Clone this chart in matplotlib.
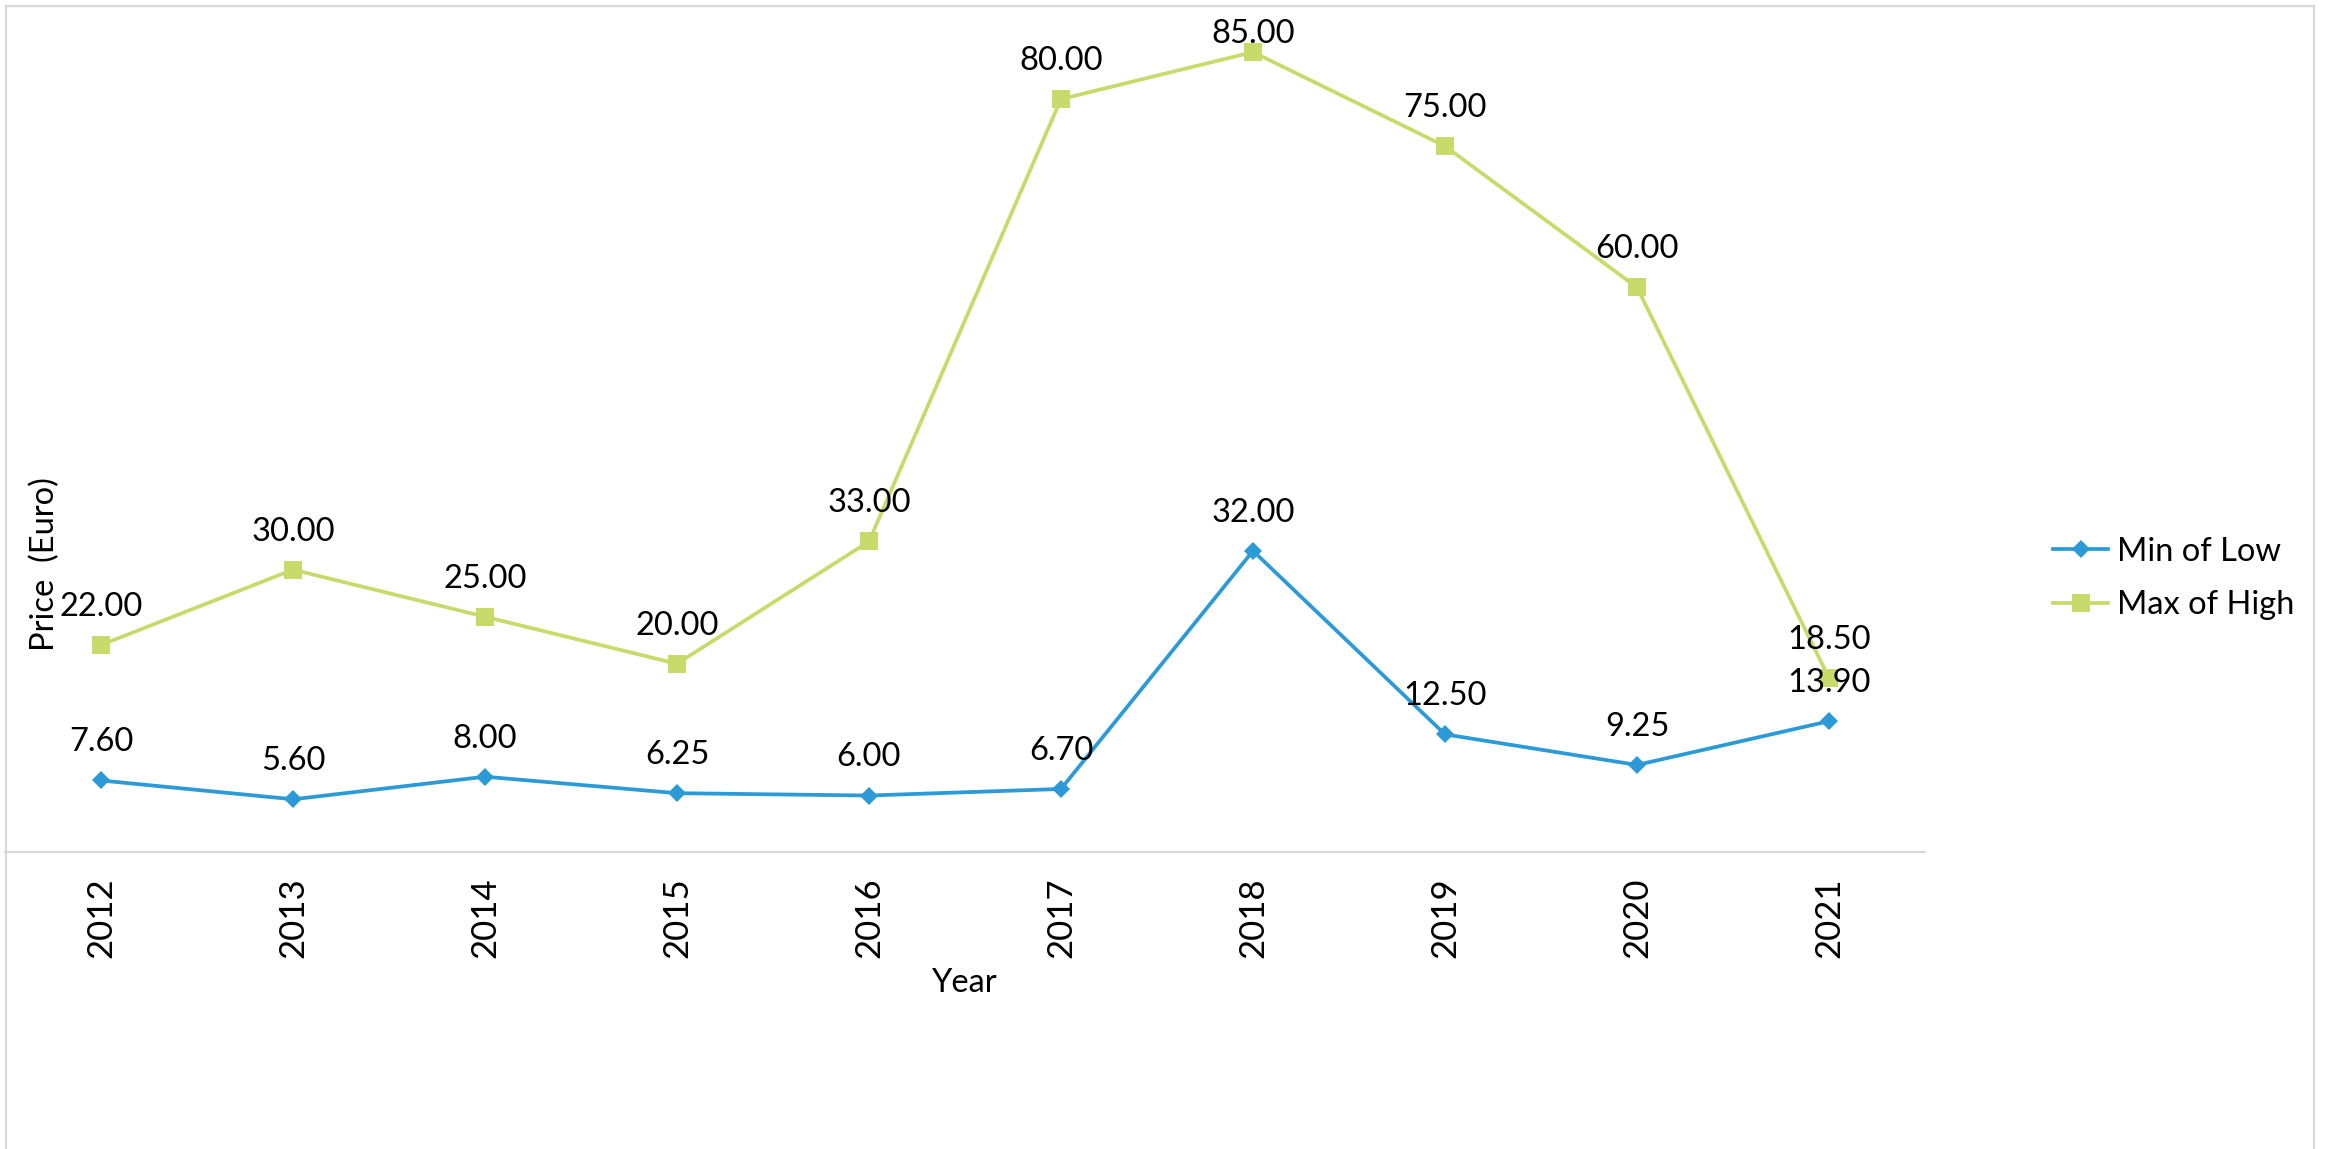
import matplotlib
matplotlib.use("Agg")
import matplotlib.pyplot as plt
from matplotlib.lines import Line2D

plt.rcParams['font.family'] = ['Lato', 'DejaVu Sans']

# ---- data ----
years = ["2012", "2013", "2014", "2015", "2016", "2017", "2018", "2019", "2020", "2021"]
min_of_low = [7.60, 5.60, 8.00, 6.25, 6.00, 6.70, 32.00, 12.50, 9.25, 13.90]
max_of_high = [22.00, 30.00, 25.00, 20.00, 33.00, 80.00, 85.00, 75.00, 60.00, 18.50]
series_names = ["Min of Low", "Max of High"]
y_title = "Price  (Euro)"
x_title = "Year"

W, H = 2331, 1149
fig = plt.figure(figsize=(W / 100, H / 100), dpi=100)
fig.patch.set_facecolor("white")

# axes placement (pixels)
ax_l, ax_r, ax_t, ax_b = 5, 1925, 5, 852
ax = fig.add_axes([ax_l / W, 1 - ax_b / H, (ax_r - ax_l) / W, (ax_b - ax_t) / H])

blue = "#2C9AD6"
green = "#C7DB6B"
grey = "#D9D9D9"

x = list(range(len(years)))
ax.plot(x, min_of_low, color=blue, lw=2.7, marker="D", ms=9.2, mew=0,
        label=series_names[0], solid_joinstyle="round")
ax.plot(x, max_of_high, color=green, lw=2.7, marker="s", ms=12.3, mew=0,
        label=series_names[1], solid_joinstyle="round")

ymax = 90
ax.set_xlim(-0.5, len(years) - 0.5)
ax.set_ylim(0, ymax)

for series in (min_of_low, max_of_high):
    for xi, v in zip(x, series):
        off = 21 if v < 0.9 * ymax else 6.5
        ax.annotate(f"{v:.2f}", (xi, v), xytext=(0, off), textcoords="offset points",
                    ha="center", va="baseline", fontsize=23.5, color="black",
                    annotation_clip=False, zorder=5)

for s in ("top", "right", "left"):
    ax.spines[s].set_visible(False)
ax.spines["bottom"].set_color(grey)
ax.spines["bottom"].set_linewidth(1.5)
ax.set_yticks([])
ax.set_xticks(x)
ax.set_xticklabels(years, rotation=90, fontsize=25, va="top", ha="center")
ax.tick_params(axis="x", length=0, pad=18)

fig.text(965 / W, 1 - 983 / H, x_title, ha="center", va="center", fontsize=23.5)
fig.text(45 / W, 1 - 564 / H, y_title, ha="center", va="center", fontsize=23.5, rotation=90)

leg = ax.legend(loc="center left", bbox_to_anchor=(2053 / W, 1 - 578.5 / H),
                bbox_transform=fig.transFigure, frameon=False, fontsize=23.5,
                handlelength=1.7, handletextpad=0.25, labelspacing=0.72,
                borderpad=0, borderaxespad=0)

# chart-area border (bottom edge lies beyond the image)
bc = grey
fig.add_artist(Line2D([5.5 / W, 5.5 / W], [0, 1 - 5.5 / H], color=bc, lw=1.6, transform=fig.transFigure))
fig.add_artist(Line2D([5.5 / W, 2313.5 / W], [1 - 5.5 / H, 1 - 5.5 / H], color=bc, lw=1.6, transform=fig.transFigure))
fig.add_artist(Line2D([2313.5 / W, 2313.5 / W], [0, 1 - 5.5 / H], color=bc, lw=1.6, transform=fig.transFigure))

fig.savefig("out.png", dpi=100, facecolor="white")
